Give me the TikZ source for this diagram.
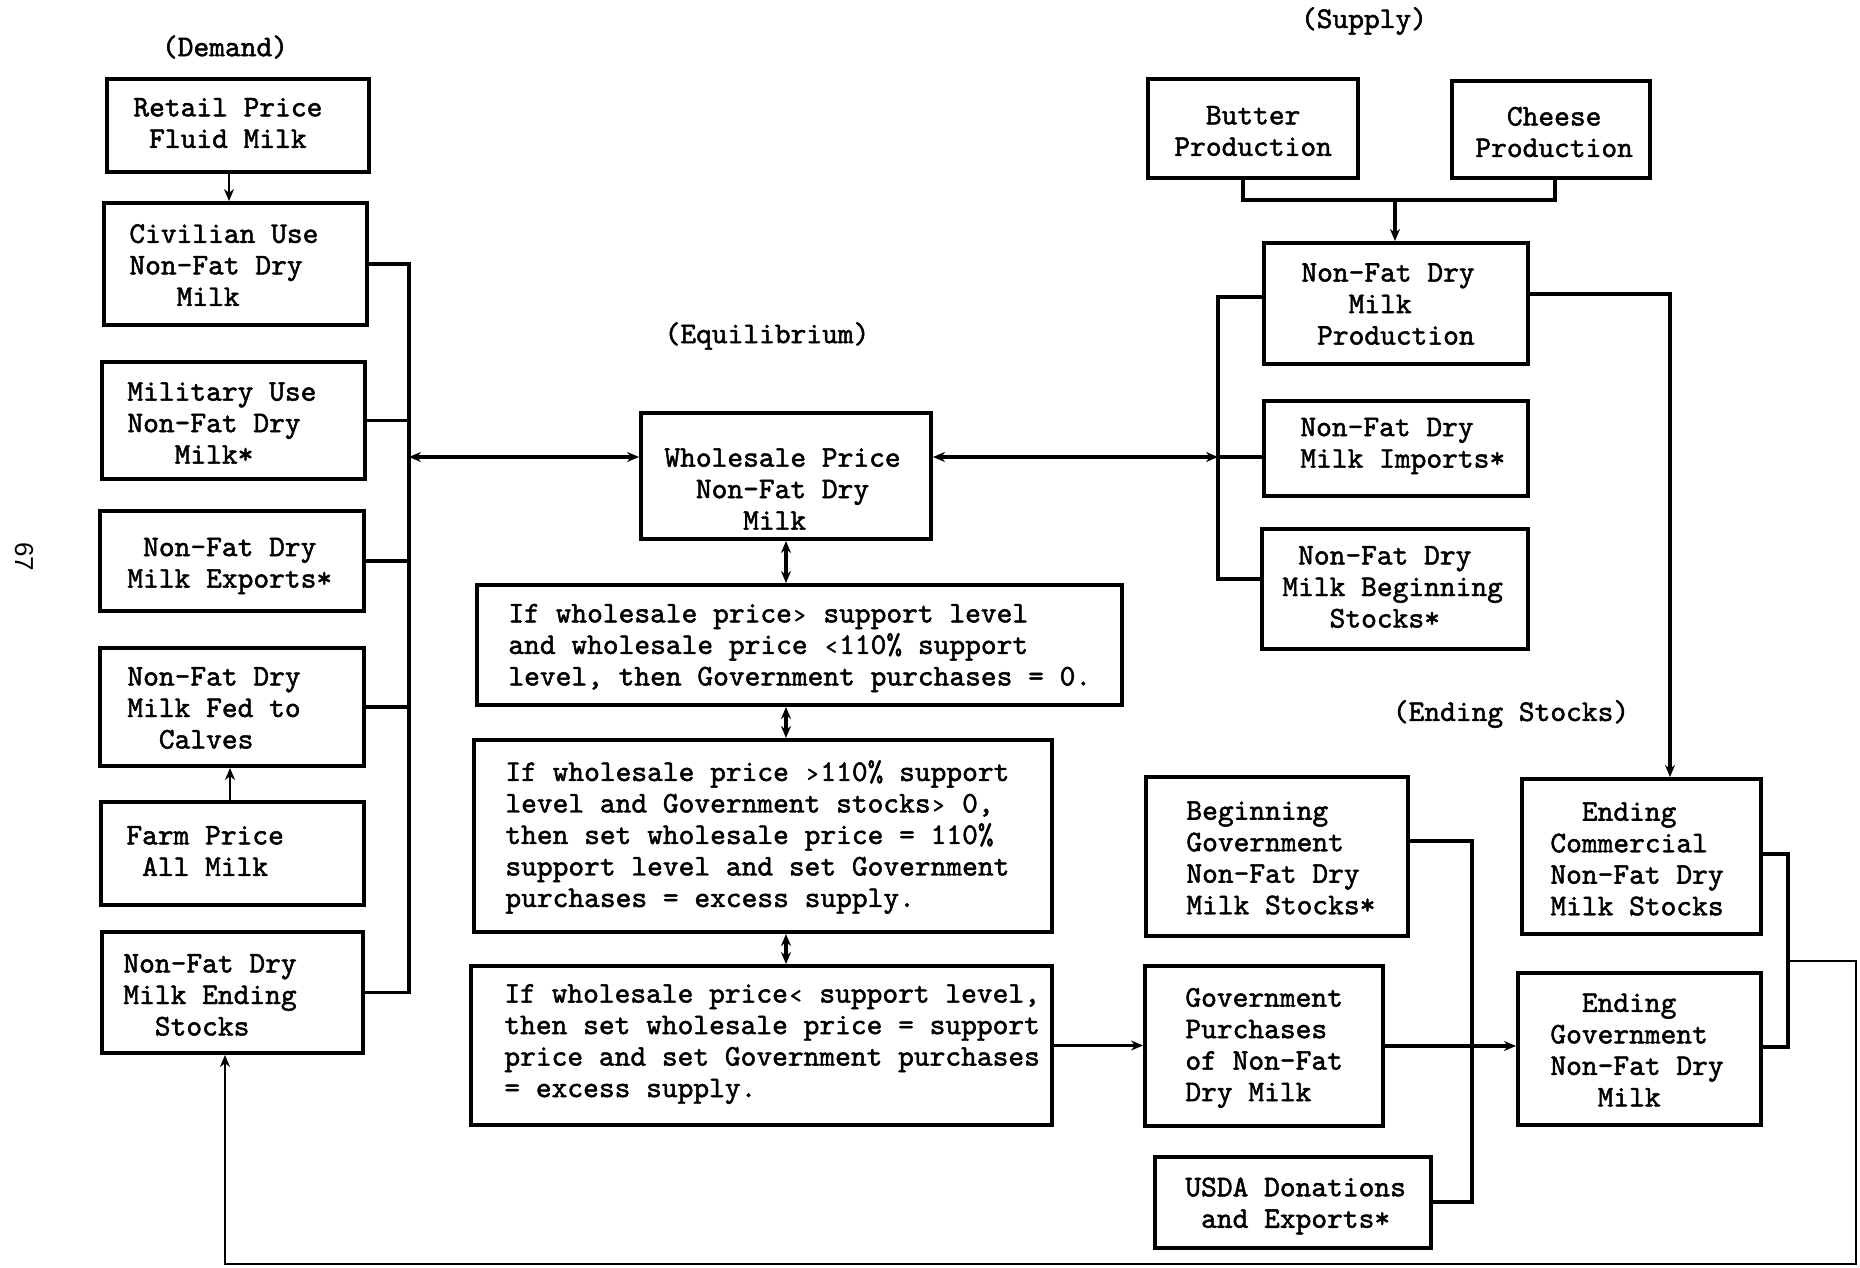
\documentclass[tikz,border=0pt]{standalone}
\usepackage{fontspec}
\usetikzlibrary{arrows.meta,fit}
\newfontfamily\tw{lmmono10-regular.otf}[FakeBold=1.6]
\newfontfamily\pgnum{Liberation Sans}
% leading blanks of a typed line (one character cell each)
\newcommand\pd[1]{\hphantom{#1}}
% small typed comparison marks, one character cell wide
\newcommand\tgt{\makebox[0.525em]{\fontsize{11}{11}\selectfont >}}
\newcommand\tlt{\makebox[0.525em]{\fontsize{11}{11}\selectfont <}}

\begin{document}
\begin{tikzpicture}[x=0.5pt,y=-0.5pt,
  box/.style={draw, line width=2pt, inner sep=0pt, fit={#1}},
  txt/.style={anchor=west, align=left, inner sep=0pt, font=\tw\fontsize{15}{15.75}\selectfont},
  lbl/.style={inner sep=0pt, font=\tw\fontsize{15}{15.75}\selectfont},
  wire/.style={line width=1.6pt},
  thinwire/.style={line width=1.2pt},
  tip/.style={-{Stealth[length=6pt,width=5pt]}},
  tips/.style={{Stealth[length=6pt,width=5pt]}-{Stealth[length=6pt,width=5pt]}}]

\fill[white] (0,0) rectangle (1860,1268);
\useasboundingbox (0,0) rectangle (1860,1268);

% page number
\node[rotate=-90, inner sep=0pt, font=\pgnum\fontsize{13}{13}\selectfont] (pg) at (24,557) {67};

% section headings
\node[lbl] (hd-dem) at (225,47) {(Demand)};
\node[lbl] (hd-equ) at (767,336) {(Equilibrium)};
\node[lbl] (hd-sup) at (1364,21) {(Supply)};
\node[lbl] (hd-end) at (1511,714) {(Ending Stocks)};

% demand side
\node[box={(107,79) (369,172)}] (retail) {};
\node[txt] (retail-t) at (133,123) {Retail Price\\\pd{x}Fluid Milk};
\node[box={(104,203) (367,325)}] (civ) {};
\node[txt] (civ-t) at (129,265) {Civilian Use\\Non-Fat Dry\\\pd{xxx}Milk};
\node[box={(102,362) (365,479)}] (mil) {};
\node[txt] (mil-t) at (127,423) {Military Use\\Non-Fat Dry\\\pd{xxx}Milk*};
\node[box={(100,511) (364,611)}] (exp) {};
\node[txt] (exp-t) at (127,566) {\pd{x}Non-Fat Dry\\Milk Exports*};
\node[box={(100,648) (364,766)}] (calv) {};
\node[txt] (calv-t) at (127,708) {Non-Fat Dry\\Milk Fed to\\\pd{xx}Calves};
\node[box={(101,802) (364,905)}] (farm) {};
\node[txt] (farm-t) at (126,851) {Farm Price\\\pd{x}All Milk};
\node[box={(102,932) (363,1053)}] (dend) {};
\node[txt] (dend-t) at (123,995) {Non-Fat Dry\\Milk Ending\\\pd{xx}Stocks};

% equilibrium
\node[box={(641,413) (931,539)}] (whole) {};
\node[txt] (whole-t) at (664,489) {Wholesale Price\\\pd{xx}Non-Fat Dry\\\pd{xxxxx}Milk};
\node[box={(477,585) (1122,705)}] (cA) {};
\node[txt] (cA-t) at (508,648) {If wholesale price\tgt{} support level\\and wholesale price \tlt110\% support\\level, then Government purchases = 0.};
\node[box={(474,740) (1052,932)}] (cB) {};
\node[txt] (cB-t) at (505,837) {If wholesale price \tgt110\% support\\level and Government stocks\tgt{} 0,\\then set wholesale price = 110\%\\support level and set Government\\purchases = excess supply.};
\node[box={(471,966) (1052,1125)}] (cC) {};
\node[txt] (cC-t) at (504,1044) {If wholesale price\tlt{} support level,\\then set wholesale price = support\\price and set Government purchases\\= excess supply.};

% supply side
\node[box={(1148,79) (1358,178)}] (butter) {};
\node[txt] (butter-t) at (1174,131) {\pd{xx}Butter\\Production};
\node[box={(1452,81) (1650,178)}] (cheese) {};
\node[txt] (cheese-t) at (1475,132) {\pd{xx}Cheese\\Production};
\node[box={(1264,243) (1528,364)}] (prod) {};
\node[txt] (prod-t) at (1301,304) {Non-Fat Dry\\\pd{xxx}Milk\\\pd{x}Production};
\node[box={(1264,401) (1528,496)}] (imp) {};
\node[txt] (imp-t) at (1300,446) {Non-Fat Dry\\Milk Imports*};
\node[box={(1262,529) (1528,649)}] (sbeg) {};
\node[txt] (sbeg-t) at (1282,587) {\pd{x}Non-Fat Dry\\Milk Beginning\\\pd{xxx}Stocks*};

% ending stocks
\node[box={(1146,777) (1408,936)}] (gbeg) {};
\node[txt] (gbeg-t) at (1186,858) {Beginning\\Government\\Non-Fat Dry\\Milk Stocks*};
\node[box={(1145,966) (1383,1126)}] (gpur) {};
\node[txt] (gpur-t) at (1185,1048) {Government\\Purchases\\of Non-Fat\\Dry Milk};
\node[box={(1155,1157) (1431,1248)}] (usda) {};
\node[txt] (usda-t) at (1185,1206) {USDA Donations\\\pd{x}and Exports*};
\node[box={(1522,779) (1761,934)}] (ecom) {};
\node[txt] (ecom-t) at (1550,859) {\pd{xx}Ending\\Commercial\\Non-Fat Dry\\Milk Stocks};
\node[box={(1518,973) (1761,1125)}] (egov) {};
\node[txt] (egov-t) at (1550,1050) {\pd{xx}Ending\\Government\\Non-Fat Dry\\\pd{xxx}Milk};

% routing points
\coordinate (ax1) at (229,0);
\coordinate (ax2) at (230,0);
\coordinate (dbus) at (409,457);
\coordinate (sbus) at (1218,457);
\coordinate (sbt) at (1218,297);
\coordinate (sbb) at (1218,579);
\coordinate (bstem) at (1243,200);
\coordinate (cstem) at (1555,200);
\coordinate (pj) at (1395,200);
\coordinate (pc) at (1670,294);
\coordinate (gbt) at (1472,841);
\coordinate (gbb) at (1472,1202);
\coordinate (ebt) at (1788,854);
\coordinate (ebb) at (1788,1047);
\coordinate (ebj) at (1788,961);
\coordinate (lpr) at (1856,961);
\coordinate (lpb) at (1856,1264);
\coordinate (lpl) at (225,1264);

% demand connectors
\draw[thinwire,tip] (retail.south -| ax1) -- (civ.north -| ax1);
\draw[thinwire,tip] (farm.north -| ax2) -- (calv.south -| ax2);
\draw[wire] (civ.east) -- (civ.east -| dbus) -- (dend.east -| dbus) -- (dend.east);
\foreach \b in {mil,exp,calv} \draw[wire] (\b.east) -- (\b.east -| dbus);
\draw[wire,tips] (dbus) -- (dbus -| whole.west);

% supply connectors
\draw[wire] (butter.south -| bstem) -- (bstem) -- (cstem) -- (cheese.south -| cstem);
\draw[wire,tip] (pj) -- (prod.north -| pj);
\draw[wire] (prod.west |- sbt) -- (sbt) -- (sbb) -- (sbb -| sbeg.west);
\draw[wire] (imp.west |- sbus) -- (sbus);
\draw[wire,tips] (whole.east |- sbus) -- (sbus);
\draw[wire,tip] (prod.east |- pc) -- (pc) -- (pc |- ecom.north);

% equilibrium chain
\draw[wire,tips] (whole.south) -- (cA.north -| whole.south);
\draw[wire,tips] (cA.south -| whole.south) -- (cB.north -| whole.south);
\draw[wire,tips] (cB.south -| whole.south) -- (cC.north -| whole.south);
\draw[wire,tip] (cC.east) -- (cC.east -| gpur.west);
\draw[wire,tip] (gpur.east) -- (gpur.east -| egov.west);

% ending stocks connectors
\draw[wire] (gbeg.east |- gbt) -- (gbt) -- (gbb) -- (usda.east |- gbb);
\draw[wire] (ecom.east |- ebt) -- (ebt) -- (ebb) -- (egov.east |- ebb);
\draw[thinwire,tip] (ebj) -- (lpr) -- (lpb) -- (lpl) -- (dend.south -| lpl);
\end{tikzpicture}
\end{document}
